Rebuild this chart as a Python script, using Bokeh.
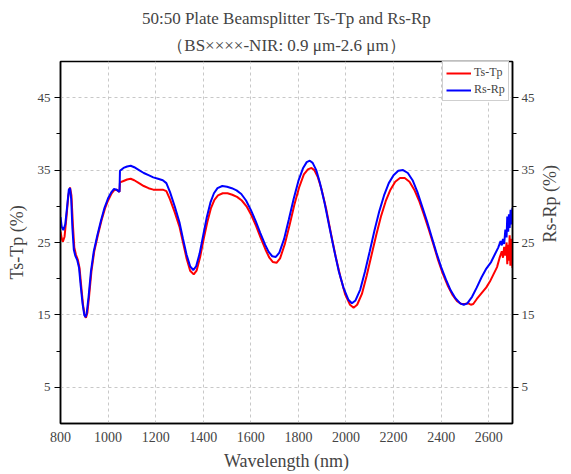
import math
from bokeh.plotting import figure
from bokeh.models import (LinearAxis, FixedTicker, Title, Legend, LegendItem,
                          Range1d)
from bokeh.embed import file_html
from bokeh.resources import INLINE

# ---- data ----
wl_rs = [800, 805, 812, 820, 828, 835, 840, 845, 850, 856, 862, 870, 878, 885,
         893, 900, 905, 910, 918, 928, 940, 955, 970, 985, 1000, 1015, 1025,
         1035, 1048, 1050, 1065, 1080, 1095, 1110, 1130, 1150, 1170, 1190,
         1210, 1230, 1245, 1260, 1280, 1300, 1315, 1330, 1345, 1358, 1370,
         1385, 1400, 1415, 1430, 1445, 1460, 1480, 1500, 1520, 1540, 1560,
         1580, 1600, 1620, 1640, 1660, 1675, 1690, 1705, 1720, 1740, 1760,
         1780, 1800, 1820, 1835, 1848, 1860, 1875, 1890, 1910, 1930, 1950,
         1970, 1990, 2010, 2025, 2040, 2060, 2080, 2100, 2120, 2140, 2160,
         2180, 2200, 2220, 2240, 2260, 2280, 2300, 2320, 2340, 2360, 2380,
         2400, 2420, 2440, 2460, 2480, 2495, 2510, 2530, 2550, 2570, 2590,
         2610, 2625, 2640, 2650, 2655, 2660, 2665, 2670, 2675, 2678, 2682,
         2685, 2688, 2692, 2695, 2700]
rs_rp = [28.5, 27.2, 26.7, 27.5, 30.0, 32.3, 32.5, 31.0, 27.0, 24.0, 23.2,
         22.6, 21.5, 19.0, 16.5, 15.0, 14.7, 15.2, 17.5, 21.0, 23.8, 26.0,
         28.0, 29.8, 31.1, 32.0, 32.4, 32.3, 32.0, 34.9, 35.3, 35.5, 35.6,
         35.4, 35.0, 34.6, 34.3, 34.0, 33.8, 33.6, 33.2, 32.0, 30.0, 27.8,
         25.5, 23.3, 21.7, 21.2, 21.7, 23.5, 26.0, 28.5, 30.5, 31.8, 32.5,
         32.8, 32.7, 32.5, 32.2, 31.7, 30.8, 29.5, 28.0, 26.3, 24.7, 23.7,
         23.1, 23.0, 23.6, 25.5, 28.2, 31.0, 33.5, 35.3, 36.1, 36.3, 36.0,
         35.0, 33.3, 30.5, 27.2, 24.0, 21.0, 18.7, 17.1, 16.6, 17.0, 18.5,
         21.0, 23.8, 26.7, 29.3, 31.5, 33.2, 34.3, 34.9, 35.0, 34.6, 33.6,
         32.0, 30.0, 28.0, 25.8, 23.6, 21.6, 19.9, 18.4, 17.3, 16.6, 16.4,
         16.6, 17.5, 18.8, 20.2, 21.4, 22.3, 23.3, 24.3, 25.2, 24.6, 25.5,
         24.8, 26.8, 25.7, 28.6, 26.5, 28.9, 27.0, 29.5, 27.5, 29.8]

wl_ts = [800, 805, 810, 817, 825, 833, 840, 846, 852, 858, 865, 873, 880, 887,
         895, 902, 907, 913, 920, 930, 942, 957, 972, 987, 1000, 1015, 1025,
         1035, 1048, 1050, 1065, 1080, 1095, 1110, 1130, 1150, 1170, 1190,
         1210, 1230, 1245, 1260, 1280, 1300, 1315, 1330, 1345, 1360, 1372,
         1387, 1402, 1417, 1432, 1447, 1462, 1482, 1502, 1522, 1542, 1562,
         1582, 1602, 1622, 1642, 1662, 1678, 1693, 1708, 1723, 1743, 1763,
         1783, 1803, 1823, 1840, 1855, 1867, 1882, 1897, 1917, 1937, 1957,
         1977, 1997, 2017, 2032, 2047, 2067, 2087, 2107, 2127, 2147, 2167,
         2187, 2207, 2227, 2247, 2267, 2287, 2307, 2327, 2347, 2367, 2387,
         2407, 2427, 2447, 2467, 2485, 2500, 2515, 2525, 2535, 2550, 2570,
         2590, 2605, 2620, 2635, 2645, 2655, 2660, 2665, 2670, 2675, 2678,
         2682, 2685, 2688, 2691, 2694, 2697, 2700]
ts_tp = [26.5, 25.6, 25.1, 25.8, 28.5, 31.5, 32.6, 31.5, 27.5, 24.3, 23.3,
         22.6, 21.5, 19.0, 16.3, 14.9, 14.6, 15.3, 17.5, 21.0, 23.8, 26.0,
         28.0, 29.7, 30.8, 31.8, 32.2, 32.3, 32.0, 33.3, 33.5, 33.7, 33.8,
         33.6, 33.2, 32.8, 32.5, 32.3, 32.3, 32.3, 32.1, 31.0, 29.2, 27.2,
         25.0, 22.8, 21.1, 20.6, 21.1, 23.0, 25.5, 27.8, 29.7, 30.9, 31.5,
         31.8, 31.8, 31.6, 31.3, 30.8, 30.0, 28.8, 27.3, 25.6, 24.0, 22.9,
         22.3, 22.2, 22.8, 24.8, 27.4, 30.2, 32.6, 34.4, 35.1, 35.3, 35.0,
         34.0, 32.4, 29.6, 26.2, 23.0, 20.2, 17.8, 16.4, 16.0, 16.4, 17.9,
         20.4, 23.2, 26.0, 28.6, 30.7, 32.3, 33.4, 33.9, 33.9, 33.4, 32.3,
         30.8, 28.9, 26.9, 24.8, 22.6, 20.7, 19.1, 17.8, 16.9, 16.5, 16.5,
         16.6, 16.4, 16.5, 17.2, 18.0, 18.8, 19.6, 20.6, 21.6, 22.8, 23.8,
         22.9, 24.4, 23.2, 25.0, 22.0, 24.7, 22.5, 26.0, 21.8, 25.5, 23.5,
         21.5]

x_ticks = [800, 1000, 1200, 1400, 1600, 1800, 2000, 2200, 2400, 2600]
y_ticks = [5, 15, 25, 35, 45]
y_minor = [10, 20, 30, 40]

title1 = "50:50 Plate Beamsplitter Ts-Tp and Rs-Rp"
title2 = "\uff08BS\u00d7\u00d7\u00d7\u00d7-NIR: 0.9 \u03bcm-2.6 \u03bcm\uff09"

SERIF = "Liberation Serif"

p = figure(frame_width=452, frame_height=362,
           x_range=Range1d(800, 2700), y_range=Range1d(0, 50),
           output_backend="svg", toolbar_location=None,
           min_border_left=60, min_border_right=46,
           min_border_top=61, min_border_bottom=43)
p.title.visible = False
p.background_fill_color = "white"
p.border_fill_color = "white"
p.outline_line_color = "black"
p.outline_line_width = 1.5

p.add_layout(Title(text=title2, align="center", text_font=SERIF,
                   text_font_size="17px", text_font_style="normal",
                   standoff=13), "above")
p.add_layout(Title(text=title1, align="center", text_font=SERIF,
                   text_font_size="17px", text_font_style="normal",
                   standoff=0), "above")

r_ts = p.line(wl_ts, ts_tp, line_color="#ff0000", line_width=2)
r_rs = p.line(wl_rs, rs_rp, line_color="#0000ff", line_width=2)

# axes
xa = p.xaxis[0]
xa.ticker = FixedTicker(ticks=x_ticks)
xa.major_tick_out = 0
xa.major_tick_in = 0
xa.minor_tick_out = 0
xa.minor_tick_in = 0
xa.axis_line_width = 1.5
xa.major_label_text_font = SERIF
xa.major_label_text_font_size = "14px"
xa.major_label_standoff = 8
xa.axis_label = "Wavelength (nm)"
xa.axis_label_text_font = SERIF
xa.axis_label_text_font_size = "18px"
xa.axis_label_text_font_style = "normal"
xa.axis_label_standoff = 6

ya = p.yaxis[0]
ya.ticker = FixedTicker(ticks=y_ticks, minor_ticks=y_minor)
ya.major_tick_out = 6
ya.major_tick_in = 0
ya.minor_tick_out = 4
ya.minor_tick_in = 0
ya.axis_line_width = 1.5
ya.major_label_text_font = SERIF
ya.major_label_text_font_size = "13px"
ya.major_label_standoff = 4
ya.axis_label = "Ts-Tp (%)"
ya.axis_label_text_font = SERIF
ya.axis_label_text_font_size = "18px"
ya.axis_label_text_font_style = "normal"
ya.axis_label_standoff = 8

ra = LinearAxis(ticker=FixedTicker(ticks=y_ticks, minor_ticks=y_minor),
                axis_label="Rs-Rp (%)")
ra.major_tick_out = 6
ra.major_tick_in = 0
ra.minor_tick_out = 4
ra.minor_tick_in = 0
ra.axis_line_width = 1.5
ra.major_label_text_font = SERIF
ra.major_label_text_font_size = "13px"
ra.major_label_standoff = 3
ra.axis_label_text_font = SERIF
ra.axis_label_text_font_size = "18px"
ra.axis_label_text_font_style = "normal"
ra.axis_label_standoff = 12
ra.axis_label_orientation = math.pi / 2
p.add_layout(ra, "right")

# grids
for g in (p.xgrid[0], p.ygrid[0]):
    g.grid_line_color = "#c8c8c8"
    g.grid_line_dash = "3 3"
    g.grid_line_width = 1
p.ygrid[0].ticker = FixedTicker(ticks=y_ticks)
p.xgrid[0].ticker = FixedTicker(ticks=x_ticks[1:])

legend = Legend(items=[LegendItem(label="Ts-Tp", renderers=[r_ts]),
                       LegendItem(label="Rs-Rp", renderers=[r_rs])],
                location=(382, 322), margin=0, padding=3, spacing=2,
                glyph_width=25, glyph_height=12, label_height=12,
                label_standoff=3, label_text_font=SERIF,
                label_text_font_size="12px",
                border_line_color="#a0a0a0", border_line_width=1,
                background_fill_alpha=1.0)
p.add_layout(legend, "center")

open("out.html", "w").write(file_html(p, INLINE))
